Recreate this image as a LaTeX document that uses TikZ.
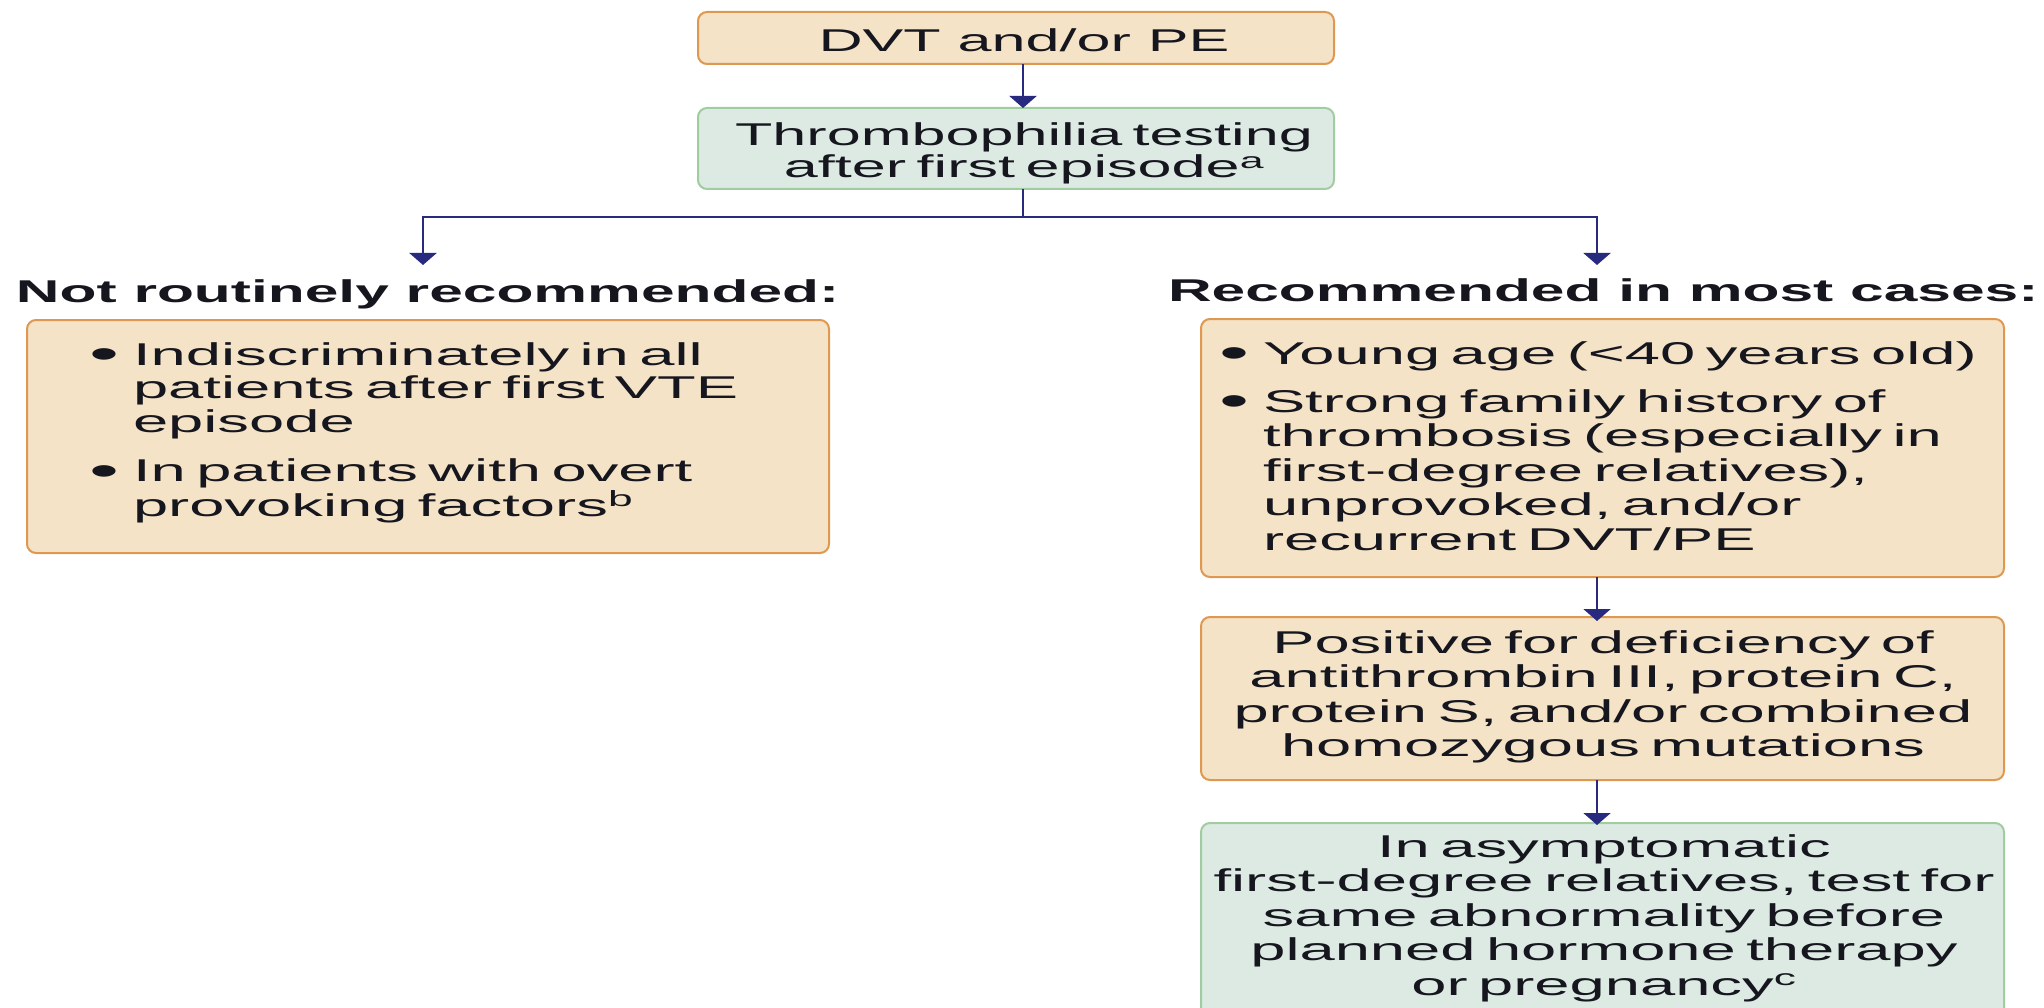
\documentclass[tikz,border=0pt]{standalone}
\usepackage{fontspec}
\setmainfont{Liberation Sans}[FakeStretch=1.94, BoldFeatures={FakeStretch=1.92}]
\newfontfamily\bodyfont{Liberation Sans}[FakeStretch=2.01]
\usetikzlibrary{arrows.meta}
\definecolor{ofill}{RGB}{244,227,199}
\definecolor{oline}{RGB}{222,152,82}
\definecolor{gfill}{RGB}{221,234,227}
\definecolor{gline}{RGB}{160,204,160}
\definecolor{arrblue}{RGB}{40,42,128}
\definecolor{txtc}{RGB}{22,22,30}
\tikzset{
  obox/.style={draw=oline, fill=ofill, line width=2pt, rounded corners=9pt, inner sep=0pt, outer sep=0pt},
  gbox/.style={draw=gline, fill=gfill, line width=2pt, rounded corners=9pt, inner sep=0pt, outer sep=0pt},
  txt/.style={inner sep=0pt, outer sep=0pt, text=txtc, font=\fontsize{31.5}{34.5}\selectfont},
  btxt/.style={txt, font=\fontsize{31.5}{34.5}\selectfont\bodyfont},
  head/.style={txt, font=\fontsize{31.5}{34.5}\selectfont\bfseries},
  conn/.style={draw=arrblue, line width=2.5pt},
  arr/.style={conn, -{Triangle[width=27pt,length=12pt]}}
}
\newcommand{\bul}{\leavevmode\llap{\raisebox{-3.5pt}{\scalebox{1.35}{\textbullet}}\hspace{14pt}}}
\begin{document}
\begin{tikzpicture}[x=1pt,y=-1pt]
\useasboundingbox (0,0) rectangle (2044,1008);
\clip (0,0) rectangle (2044,1008);
% boxes
\node[obox, minimum width=636pt, minimum height=52pt] (dvt) at (1016,38) {};
\node[gbox, minimum width=636pt, minimum height=81pt] (thr) at (1016,148.5) {};
\node[obox, minimum width=802pt, minimum height=233pt] (lbox) at (428,436.5) {};
\node[obox, minimum width=803pt, minimum height=258pt] (rboxa) at (1602.5,448) {};
\node[obox, minimum width=803pt, minimum height=163pt] (rboxb) at (1602.5,698.5) {};
\node[gbox, minimum width=803pt, minimum height=207pt] (rboxc) at (1602.5,926.5) {};
% texts
\node[txt, anchor=base] (dvtt) at (1024,52) {DVT and/or PE};
\node[txt, anchor=base, text width=620pt, align=center] (thrt) at (1024,145.5)
  {Thrombophilia testing\\[-2.5pt] after first episode\textsuperscript{a}};
\node[head, anchor=base west] (lhead) at (16,302) {Not routinely recommended:};
\node[head, anchor=base west] (rhead) at (1168,301) {Recommended in most cases:};
\node[btxt, anchor=base west, text width=690pt, align=left] (lboxt) at (133,365)
  {\bul Indiscriminately in all\\[-1pt] patients after first VTE\\[-1pt] episode\\[15pt]\bul In patients with overt\\ provoking factors\textsuperscript{b}};
\node[btxt, anchor=base west, text width=735pt, align=left] (rboxat) at (1263,364)
  {\bul Young age (<40 years old)\\[13.5pt]\bul Strong family history of\\ thrombosis (especially in\\ first-degree relatives),\\ unprovoked, and/or\\ recurrent DVT/PE};
\node[btxt, anchor=base, text width=790pt, align=center] (rboxbt) at (1603,653)
  {Positive for deficiency of\\ antithrombin III, protein C,\\ protein S, and/or combined\\ homozygous mutations};
\node[btxt, anchor=base, text width=790pt, align=center] (rboxct) at (1604,857)
  {In asymptomatic\\ first-degree relatives, test for\\ same abnormality before\\ planned hormone therapy\\ or pregnancy\textsuperscript{c}};
% connectors
\coordinate (split) at (1023,217);
\coordinate (ltip) at (423,265);
\coordinate (rtip) at (1597,265);
\draw[arr] ([xshift=7pt]dvt.south) -- ([xshift=7pt]thr.north);
\draw[conn] ([xshift=7pt]thr.south) -- (split);
\draw[arr] (split) -| (ltip);
\draw[arr] (split) -| (rtip);
\draw[arr] ([xshift=-5.5pt]rboxa.south) -- ([xshift=-5.5pt,yshift=-4pt]rboxb.north);
\draw[arr] ([xshift=-5.5pt]rboxb.south) -- ([xshift=-5.5pt,yshift=-2pt]rboxc.north);
\end{tikzpicture}
\end{document}
